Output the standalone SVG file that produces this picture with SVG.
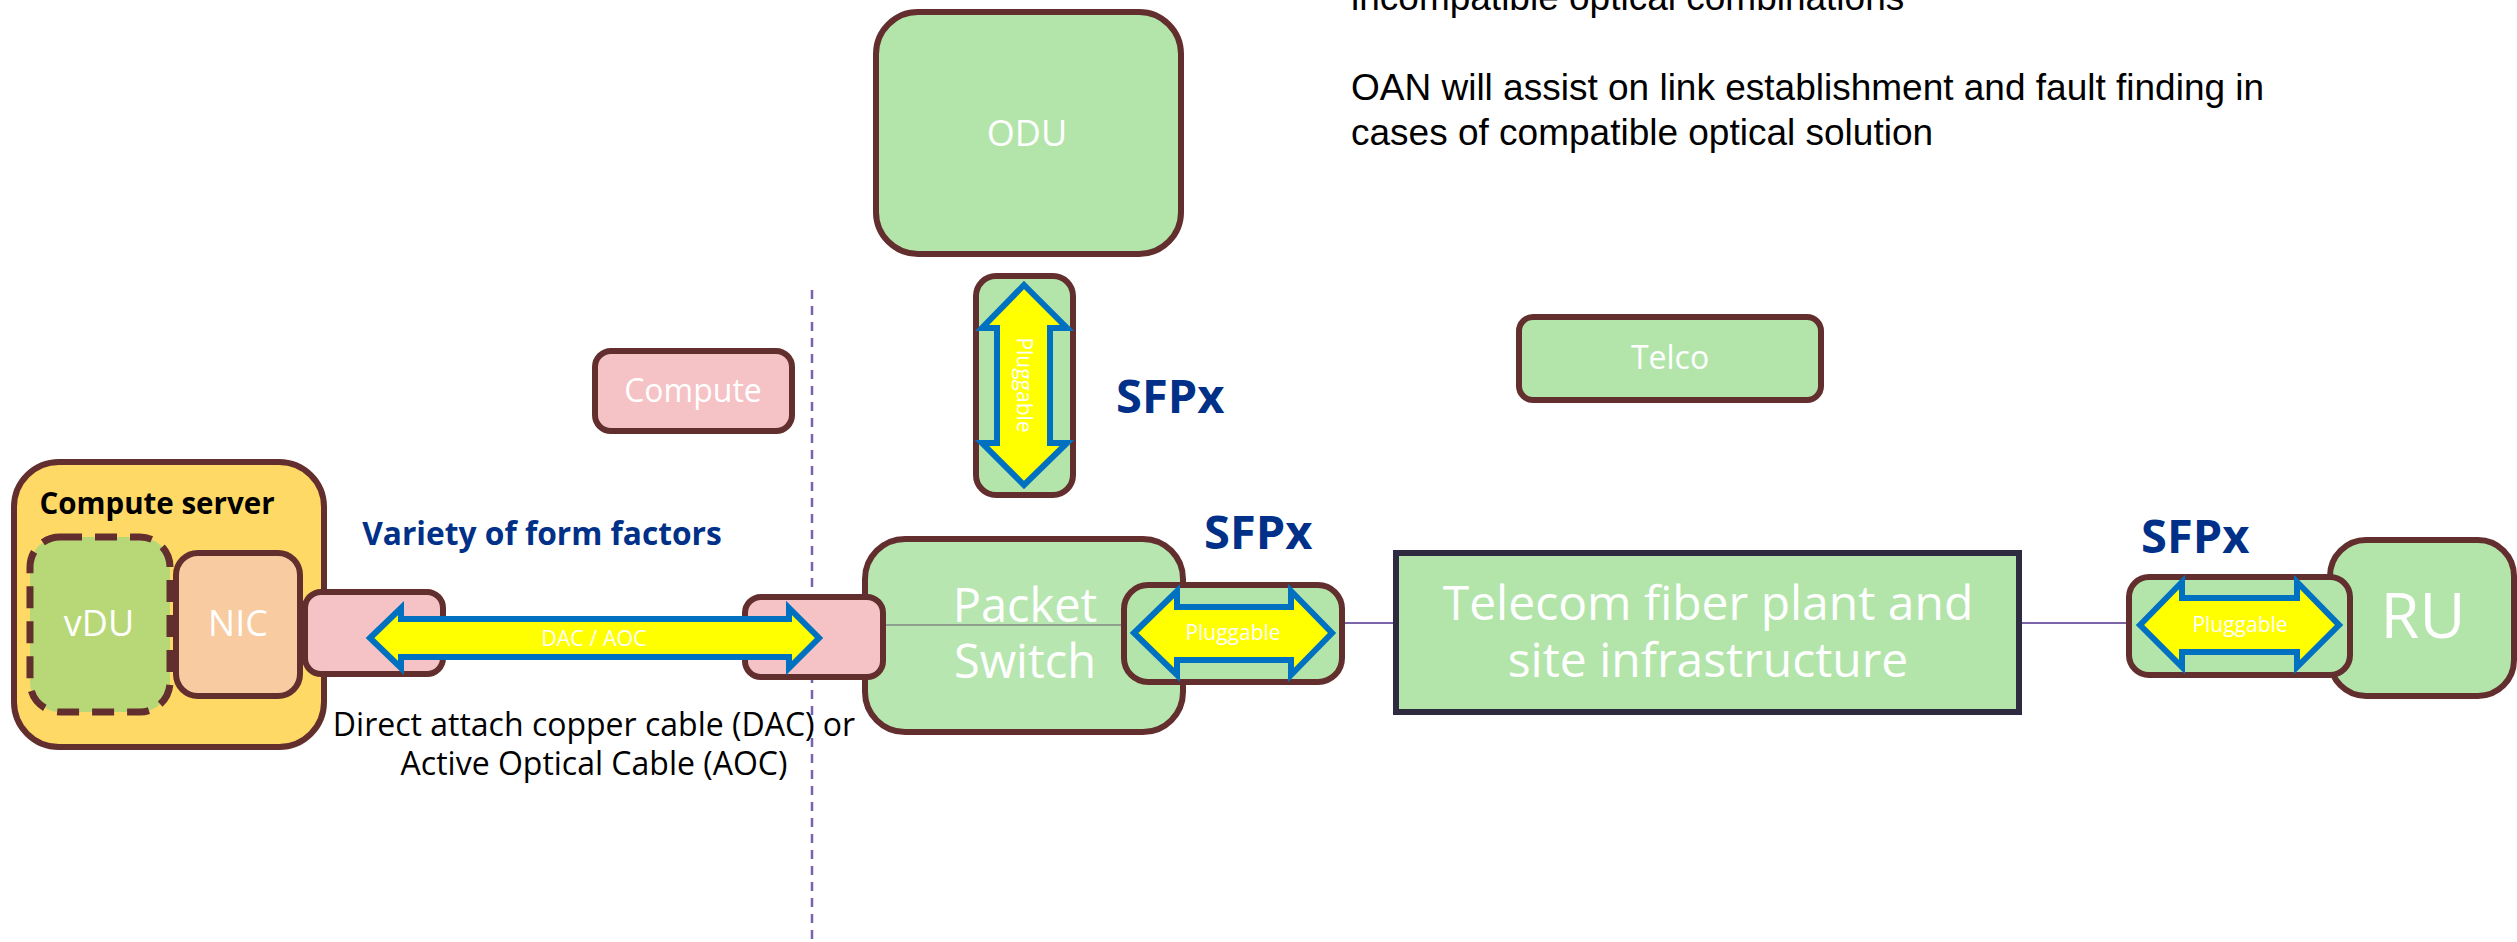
<svg xmlns="http://www.w3.org/2000/svg" width="2517" height="942" viewBox="0 0 2517 942">
<style>
.box{stroke:#632E2E;stroke-width:6}
.g{fill:#B3E5AB}
.pk{fill:#F5C3C5}
.arr{fill:#FFFF00;stroke:#0070C0;stroke-width:6;stroke-linejoin:miter}
.w{fill:#FFFFFF;font-family:"Open Sans","Noto Sans",sans-serif;text-anchor:middle}
.sfp{fill:#003087;font-family:"Open Sans","Noto Sans",sans-serif;font-weight:bold;font-size:47px}
.note{fill:#000000;font-family:"Liberation Sans",Arial,sans-serif;font-size:37px}
.cap{fill:#000000;font-family:"Open Sans","Noto Sans",sans-serif;font-size:32px;text-anchor:middle}
</style>
<rect width="2517" height="942" fill="#FFFFFF"/>

<text class="note" x="1351" y="10">incompatible optical combinations</text>
<text class="note" x="1351" y="100">OAN will assist on link establishment and fault finding in</text>
<text class="note" x="1351" y="145">cases of compatible optical solution</text>

<line x1="812" y1="290" x2="812" y2="942" stroke="#7B62AE" stroke-width="2.5" stroke-dasharray="9,7"/>

<g id="odu">
<rect class="box g" x="876" y="12" width="305" height="242" rx="42"/>
<text class="w" x="1027" y="146" font-size="36">ODU</text>
</g>

<g id="pluggable-v">
<rect class="box g" x="976" y="276" width="97" height="219" rx="20"/>
<path class="arr" d="M1024,285 L1067,328 L1050,328 L1050,443 L1067,443 L1024,485 L982,443 L997,443 L997,328 L982,328 Z"/>
<text class="w" font-size="21" transform="translate(1024,385) rotate(90)" x="0" y="7">Pluggable</text>
</g>
<text class="sfp" x="1116" y="413">SFPx</text>

<g id="compute">
<rect class="box pk" x="595" y="351" width="197" height="80" rx="16"/>
<text class="w" x="693" y="402" font-size="32">Compute</text>
</g>

<g id="telco">
<rect class="box g" x="1519" y="317" width="302" height="83" rx="14"/>
<text class="w" x="1670" y="369" font-size="32">Telco</text>
</g>

<g id="compute-server">
<rect class="box" fill="#FFD966" x="14" y="462" width="310" height="285" rx="45"/>
<text x="157" y="514" font-family="'Open Sans','Noto Sans',sans-serif" font-weight="bold" font-size="29.5" text-anchor="middle" fill="#000000">Compute server</text>
<rect x="30" y="537" width="140" height="175" rx="30" fill="#B8D878" stroke="#632E2E" stroke-width="7" stroke-dasharray="22,13"/>
<text class="w" x="99" y="636" font-size="36">vDU</text>
<rect class="box" fill="#F8CBA0" x="176" y="553" width="124" height="143" rx="22"/>
<text class="w" x="238" y="636" font-size="36">NIC</text>
</g>

<text x="542" y="545" font-family="'Open Sans','Noto Sans',sans-serif" font-weight="bold" font-size="31.7" text-anchor="middle" fill="#003087">Variety of form factors</text>

<g id="packet-switch">
<rect class="box" fill="#B8E6B0" x="865" y="539" width="318" height="193" rx="40"/>
<text class="w" x="1025" y="622" font-size="47">Packet</text>
<text class="w" x="1025" y="678" font-size="47">Switch</text>
</g>

<g id="connectors">
<line x1="884" y1="625" x2="1123" y2="625" stroke="#8FA08F" stroke-width="2"/>
<line x1="1343" y1="623" x2="1395" y2="623" stroke="#7B64A8" stroke-width="2"/>
<line x1="2020" y1="623" x2="2128" y2="623" stroke="#7B64A8" stroke-width="2"/>
</g>

<g id="dac-left">
<rect class="box pk" x="305" y="592" width="138" height="82" rx="16"/>
</g>
<g id="dac-right">
<rect class="box pk" x="745" y="597" width="138" height="80" rx="16"/>
</g>
<g id="dac-cable">
<path class="arr" d="M370,638 L401,608 L401,619 L789,619 L789,608 L819,638 L789,668 L789,657 L401,657 L401,668 Z"/>
<text class="w" x="594" y="646" font-size="21.5">DAC / AOC</text>
</g>
<text class="cap" x="594" y="736">Direct attach copper cable (DAC) or</text>
<text class="cap" x="594" y="775">Active Optical Cable (AOC)</text>

<g id="pluggable-ps">
<rect class="box g" x="1124" y="585" width="218" height="97" rx="24"/>
<path class="arr" d="M1134,633 L1177,591 L1177,607 L1291,607 L1291,591 L1332,633 L1291,675 L1291,660 L1177,660 L1177,675 Z"/>
<text class="w" x="1233" y="640" font-size="21">Pluggable</text>
</g>
<text class="sfp" x="1204" y="549">SFPx</text>

<g id="telecom-fiber">
<rect fill="#B3E5AB" stroke="#2E2A3F" stroke-width="6" x="1396" y="553" width="623" height="159"/>
<text class="w" x="1708" y="620" font-size="48">Telecom fiber plant and</text>
<text class="w" x="1708" y="677" font-size="48">site infrastructure</text>
</g>

<g id="ru">
<rect class="box g" x="2330" y="540" width="184" height="156" rx="36"/>
<text class="w" x="2423" y="638" font-size="63">RU</text>
</g>

<g id="pluggable-ru">
<rect class="box g" x="2129" y="577" width="221" height="98" rx="20"/>
<path class="arr" d="M2140,625 L2182,582 L2182,598 L2297,598 L2297,582 L2339,625 L2297,667 L2297,652 L2182,652 L2182,667 Z"/>
<text class="w" x="2240" y="632" font-size="21">Pluggable</text>
</g>
<text class="sfp" x="2141" y="553">SFPx</text>
</svg>
